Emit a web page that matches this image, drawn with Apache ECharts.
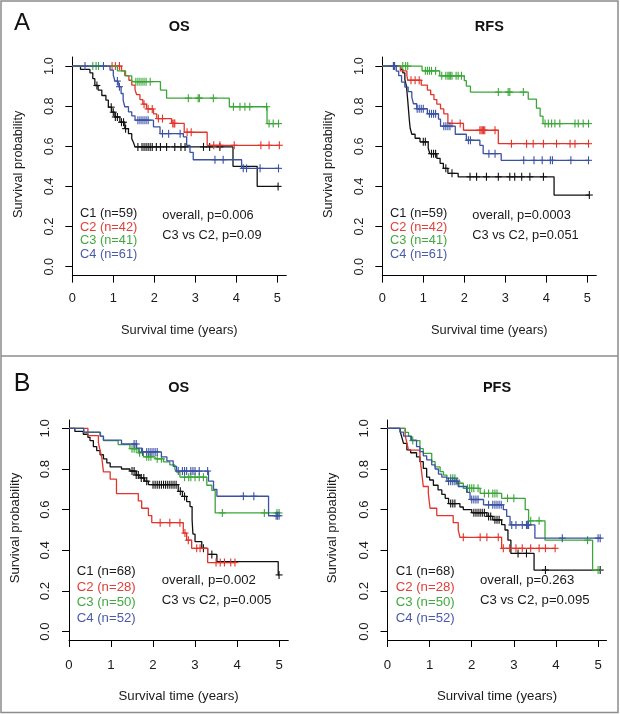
<!DOCTYPE html>
<html><head><meta charset="utf-8">
<script src="https://cdn.jsdelivr.net/npm/echarts@6/dist/echarts.min.js"></script>
<style>html,body{margin:0;padding:0;background:#fff}#c{width:620px;height:714px}</style>
</head><body><div id="c"></div><script>
// ---------- DATA (years, survival probability) ----------
const xTicks = [0, 1, 2, 3, 4, 5];
const yTicks = [0, 0.2, 0.4, 0.6, 0.8, 1.0];
const groupNames = ['C1', 'C2', 'C3', 'C4'];
const panelTitles = ['OS', 'RFS', 'OS', 'PFS'];
const panelLetters = ['A', 'B'];
const nA = [59, 42, 41, 61];
const nB = [68, 28, 50, 52];
const pTextA_OS = ['overall, p=0.006', 'C3 vs C2, p=0.09'];
const pTextA_RFS = ['overall, p=0.0003', 'C3 vs C2, p=0.051'];
const pTextB_OS = ['overall, p=0.002', 'C3 vs C2, p=0.005'];
const pTextB_PFS = ['overall, p=0.263', 'C3 vs C2, p=0.095'];

// Panel A, OS
const aOS_C1_t = [0.2, 0.43, 0.5, 0.55, 0.63, 0.72, 0.82, 0.88, 0.96, 1.04, 1.16, 1.28, 1.37, 1.45, 1.49, 1.53, 3.92, 4.51];
const aOS_C1_s = [0.983, 0.966, 0.937, 0.903, 0.88, 0.853, 0.83, 0.795, 0.77, 0.746, 0.72, 0.688, 0.663, 0.638, 0.62, 0.597, 0.5, 0.4];
const aOS_C1_c = [0.6, 0.95, 1.0, 1.05, 1.1, 1.2, 1.25, 1.3, 1.6, 1.7, 1.75, 1.8, 1.85, 1.9, 1.95, 2.05, 2.15, 2.3, 2.5, 2.65, 2.75, 3.2, 3.35, 3.6, 5.02];
const aOS_C2_t = [1.2, 1.28, 1.38, 1.45, 1.53, 1.57, 1.65, 1.72, 1.81, 1.98, 2.06, 2.42, 2.73, 3.29];
const aOS_C2_s = [0.976, 0.952, 0.929, 0.905, 0.881, 0.857, 0.833, 0.81, 0.786, 0.762, 0.738, 0.714, 0.67, 0.605];
const aOS_C2_c = [0.97, 1.05, 1.15, 1.75, 1.85, 1.95, 2.1, 2.2, 2.45, 2.48, 2.5, 2.8, 2.9, 3.45, 3.6, 3.95, 4.6, 4.8, 5.05];
const aOS_C3_t = [1.1, 1.3, 1.45, 2.15, 2.3, 3.83, 4.75];
const aOS_C3_s = [0.976, 0.951, 0.922, 0.88, 0.84, 0.797, 0.713];
const aOS_C3_c = [0.5, 0.58, 0.64, 1.55, 1.6, 1.65, 1.7, 1.75, 1.8, 1.9, 2.83, 3.07, 3.1, 3.44, 3.93, 4.09, 4.21, 4.33, 4.74, 4.8, 4.9, 5.03];
const aOS_C4_t = [0.92, 1.0, 1.04, 1.12, 1.19, 1.24, 1.28, 1.37, 1.45, 1.53, 1.98, 2.14, 2.71, 2.79, 2.87, 2.95, 4.13];
const aOS_C4_s = [0.98, 0.955, 0.925, 0.897, 0.863, 0.83, 0.797, 0.772, 0.752, 0.73, 0.697, 0.663, 0.647, 0.605, 0.57, 0.533, 0.49];
const aOS_C4_c = [0.31, 0.76, 1.1, 1.15, 1.6, 1.65, 1.7, 1.75, 1.8, 1.85, 2.2, 2.35, 2.63, 3.48, 3.68, 4.17, 4.25, 4.58, 5.03];

// Panel A, RFS
const aRFS_C1_t = [0.45, 0.5, 0.55, 0.59, 0.62, 0.64, 0.66, 0.68, 0.72, 0.8, 0.92, 1.12, 1.16, 1.33, 1.41, 1.49, 1.6, 1.85, 4.19];
const aRFS_C1_s = [0.983, 0.966, 0.932, 0.898, 0.83, 0.78, 0.73, 0.69, 0.66, 0.64, 0.622, 0.59, 0.563, 0.54, 0.515, 0.49, 0.465, 0.448, 0.357];
const aRFS_C1_c = [0.28, 1.0, 1.05, 1.2, 1.25, 1.3, 1.55, 1.7, 2.14, 2.3, 2.54, 2.83, 3.11, 3.23, 3.4, 3.6, 3.93, 5.05];
const aRFS_C2_t = [0.44, 0.6, 0.62, 0.95, 1.1, 1.18, 1.26, 1.33, 1.42, 1.5, 1.6, 1.98, 2.83];
const aRFS_C2_s = [0.976, 0.952, 0.929, 0.905, 0.88, 0.857, 0.833, 0.81, 0.786, 0.762, 0.714, 0.68, 0.613];
const aRFS_C2_c = [0.7, 0.8, 0.9, 1.7, 1.9, 2.38, 2.41, 2.44, 2.47, 2.5, 2.75, 3.15, 3.52, 3.68, 3.93, 4.25, 4.58, 4.7, 5.03];
const aRFS_C3_t = [0.97, 1.4, 2.0, 2.05, 2.15, 3.56, 3.76, 3.85, 3.92];
const aRFS_C3_s = [0.976, 0.951, 0.927, 0.9, 0.87, 0.835, 0.79, 0.75, 0.713];
const aRFS_C3_c = [0.5, 0.57, 0.62, 1.05, 1.1, 1.15, 1.2, 1.3, 1.45, 1.55, 1.6, 1.63, 1.66, 1.7, 1.8, 1.85, 1.93, 2.83, 3.07, 3.11, 3.44, 3.97, 4.05, 4.13, 4.21, 4.33, 4.7, 4.78, 4.9, 5.03];
const aRFS_C4_t = [0.34, 0.4, 0.47, 0.55, 0.63, 0.72, 0.76, 0.84, 1.1, 1.37, 1.42, 1.78, 2.05, 2.38, 2.46, 2.9];
const aRFS_C4_s = [0.975, 0.952, 0.92, 0.895, 0.872, 0.845, 0.812, 0.787, 0.762, 0.735, 0.7, 0.66, 0.63, 0.605, 0.563, 0.53];
const aRFS_C4_c = [0.27, 0.3, 0.85, 0.9, 0.95, 1.0, 1.15, 1.2, 1.25, 1.3, 1.5, 1.55, 1.6, 1.65, 2.1, 2.15, 2.6, 2.75, 3.45, 3.7, 3.9, 4.1, 4.15, 4.6, 5.03];

// Panel B, OS
const bOS_C1_t = [0.14, 0.34, 0.45, 0.5, 0.58, 0.66, 0.74, 0.82, 0.9, 0.98, 1.25, 1.45, 1.6, 1.69, 1.8, 1.89, 2.6, 2.7, 2.8, 2.88, 2.93, 2.95, 3.0, 3.16, 3.3, 3.52, 4.98];
const bOS_C1_s = [0.985, 0.971, 0.956, 0.94, 0.91, 0.89, 0.87, 0.85, 0.83, 0.81, 0.8, 0.79, 0.77, 0.756, 0.74, 0.723, 0.69, 0.665, 0.64, 0.615, 0.55, 0.48, 0.443, 0.41, 0.38, 0.344, 0.279];
const bOS_C1_c = [1.5, 1.55, 1.6, 1.65, 1.72, 1.78, 1.85, 2.0, 2.05, 2.1, 2.15, 2.2, 2.25, 2.3, 2.35, 2.4, 2.45, 2.5, 2.55, 2.65, 2.75, 3.2, 3.4, 5.0];
const bOS_C2_t = [0.45, 0.7, 0.74, 0.78, 0.82, 0.98, 1.13, 1.65, 1.73, 1.89, 1.97, 2.72, 2.8, 2.92, 3.3];
const bOS_C2_s = [0.964, 0.929, 0.893, 0.857, 0.786, 0.75, 0.679, 0.643, 0.607, 0.571, 0.536, 0.485, 0.45, 0.41, 0.34];
const bOS_C2_c = [2.17, 2.4, 2.64, 2.76, 2.84, 3.04, 3.12, 3.5, 3.6, 3.7, 3.85, 3.95];
const bOS_C3_t = [0.35, 0.75, 0.82, 1.17, 1.45, 1.65, 1.77, 2.05, 2.25, 2.4, 2.52, 2.56, 2.64, 3.28, 3.4, 3.48];
const bOS_C3_s = [0.98, 0.96, 0.94, 0.92, 0.9, 0.88, 0.86, 0.85, 0.835, 0.82, 0.8, 0.785, 0.76, 0.72, 0.695, 0.584];
const bOS_C3_c = [1.5, 1.55, 1.6, 1.68, 1.85, 1.9, 1.95, 2.1, 2.2, 2.75, 2.85, 2.9, 3.0, 3.1, 3.2, 3.65, 4.65, 4.95, 5.0];
const bOS_C4_t = [0.35, 0.74, 0.82, 1.25, 1.61, 1.73, 2.2, 2.33, 2.48, 2.56, 3.32, 3.44, 3.52, 4.75];
const bOS_C4_s = [0.981, 0.962, 0.942, 0.923, 0.903, 0.884, 0.86, 0.84, 0.813, 0.79, 0.74, 0.7, 0.666, 0.57];
const bOS_C4_c = [1.55, 1.6, 1.75, 1.85, 1.9, 1.95, 2.0, 2.05, 2.1, 2.6, 2.7, 2.75, 2.8, 2.9, 2.95, 3.0, 3.1, 3.3, 4.15, 4.4, 4.93, 4.96, 5.0];

// Panel B, PFS
const bPFS_C1_t = [0.3, 0.34, 0.38, 0.46, 0.55, 0.69, 0.77, 0.85, 0.93, 1.0, 1.09, 1.2, 1.29, 1.37, 1.45, 1.72, 1.8, 2.0, 2.36, 2.5, 2.71, 2.79, 2.86, 2.93, 3.48];
const bPFS_C1_s = [0.985, 0.956, 0.926, 0.894, 0.88, 0.86, 0.836, 0.803, 0.76, 0.746, 0.72, 0.697, 0.675, 0.656, 0.63, 0.613, 0.6, 0.585, 0.567, 0.55, 0.526, 0.5, 0.45, 0.385, 0.303];
const bPFS_C1_c = [1.5, 1.55, 1.6, 2.05, 2.1, 2.15, 2.2, 2.25, 2.3, 2.4, 2.45, 2.55, 2.6, 2.65, 3.1, 3.3, 3.75, 5.05];
const bPFS_C2_t = [0.42, 0.46, 0.5, 0.77, 0.79, 0.81, 0.83, 0.85, 0.97, 0.99, 1.01, 1.17, 1.56, 1.68, 1.72, 2.71];
const bPFS_C2_s = [0.964, 0.929, 0.893, 0.857, 0.821, 0.786, 0.75, 0.714, 0.679, 0.643, 0.607, 0.571, 0.536, 0.5, 0.464, 0.41];
const bPFS_C2_c = [1.8, 2.2, 2.36, 2.63, 2.75, 2.9, 3.05, 3.2, 3.4, 3.6, 3.75, 3.98];
const bPFS_C3_t = [0.42, 0.5, 0.55, 0.77, 0.85, 1.05, 1.13, 1.25, 1.33, 1.41, 1.64, 1.8, 2.2, 2.71, 3.27, 3.35, 3.74, 4.87];
const bPFS_C3_s = [0.98, 0.96, 0.94, 0.9, 0.877, 0.836, 0.81, 0.787, 0.77, 0.754, 0.73, 0.705, 0.68, 0.656, 0.6, 0.545, 0.45, 0.303];
const bPFS_C3_c = [0.6, 1.5, 1.55, 1.6, 1.7, 1.9, 1.95, 2.0, 2.05, 2.15, 2.3, 2.4, 2.5, 2.55, 2.6, 2.85, 3.0, 3.4, 3.6, 4.75, 5.0];
const bPFS_C4_t = [0.3, 0.38, 0.57, 0.69, 0.77, 0.85, 0.93, 1.05, 1.13, 1.21, 1.29, 1.41, 1.68, 1.88, 1.96, 2.28, 2.75, 2.83, 2.91, 3.5];
const bPFS_C4_s = [0.981, 0.962, 0.942, 0.91, 0.885, 0.865, 0.845, 0.82, 0.8, 0.775, 0.76, 0.74, 0.714, 0.685, 0.65, 0.624, 0.6, 0.567, 0.525, 0.46];
const bPFS_C4_c = [1.45, 1.5, 1.55, 1.6, 1.65, 2.0, 2.05, 2.1, 2.15, 2.4, 2.5, 2.55, 2.6, 2.65, 2.7, 2.95, 3.05, 3.2, 3.3, 3.32, 3.35, 4.15, 5.0, 5.05];

// ---------- LAYOUT / STYLE ----------
const FONT = '"Liberation Sans", Arial, Helvetica, sans-serif';
const COLORS = ['#111111', '#e3342c', '#3ba638', '#3b51a3'];
const TEXT_COLORS = ['#1a1a1a', '#e0403a', '#44a840', '#4a5aa8'];

const panels = [
  { curves: [[aOS_C1_t, aOS_C1_s, aOS_C1_c], [aOS_C2_t, aOS_C2_s, aOS_C2_c], [aOS_C3_t, aOS_C3_s, aOS_C3_c], [aOS_C4_t, aOS_C4_s, aOS_C4_c]],
    n: nA, p: pTextA_OS, left: 72.3, top: 57, width: 214, height: 218.7, yMin: -0.045, yMax: 1.045, xMax: 5.22,
    legX: 80, legY: 213.3, legDy: 13.7, pX: 162.3, pY: 215.7, pDy: 20, fs: 12.8, xLabM: 16.5, yLabM: 16, xTitleY: 330, yTitleX: 18, titleY: 26.7 },
  { curves: [[aRFS_C1_t, aRFS_C1_s, aRFS_C1_c], [aRFS_C2_t, aRFS_C2_s, aRFS_C2_c], [aRFS_C3_t, aRFS_C3_s, aRFS_C3_c], [aRFS_C4_t, aRFS_C4_s, aRFS_C4_c]],
    n: nA, p: pTextA_RFS, left: 382.3, top: 57, width: 214, height: 218.7, yMin: -0.045, yMax: 1.045, xMax: 5.22,
    legX: 390, legY: 213.3, legDy: 13.7, pX: 472.3, pY: 215.7, pDy: 20, fs: 12.8, xLabM: 16.5, yLabM: 16, xTitleY: 330, yTitleX: 328, titleY: 26.7 },
  { curves: [[bOS_C1_t, bOS_C1_s, bOS_C1_c], [bOS_C2_t, bOS_C2_s, bOS_C2_c], [bOS_C3_t, bOS_C3_s, bOS_C3_c], [bOS_C4_t, bOS_C4_s, bOS_C4_c]],
    n: nB, p: pTextB_OS, left: 69, top: 420, width: 219.3, height: 220, yMin: -0.041, yMax: 1.041, xMax: 5.22,
    legX: 76.7, legY: 571.7, legDy: 15.5, pX: 161.7, pY: 580, pDy: 20, fs: 13.2, xLabM: 19, yLabM: 17, xTitleY: 696, yTitleX: 15, titleY: 387.7 },
  { curves: [[bPFS_C1_t, bPFS_C1_s, bPFS_C1_c], [bPFS_C2_t, bPFS_C2_s, bPFS_C2_c], [bPFS_C3_t, bPFS_C3_s, bPFS_C3_c], [bPFS_C4_t, bPFS_C4_s, bPFS_C4_c]],
    n: nB, p: pTextB_PFS, left: 387.5, top: 420, width: 219, height: 220, yMin: -0.041, yMax: 1.041, xMax: 5.2,
    legX: 395.7, legY: 571.7, legDy: 15.5, pX: 480, pY: 580, pDy: 20, fs: 13.2, xLabM: 19, yLabM: 17, xTitleY: 696, yTitleX: 332, titleY: 388 }
];

function stepData(t, s, c) {
  const end = Math.max(t[t.length - 1], c.length ? c[c.length - 1] : 0);
  const d = [[0, 1]];
  t.forEach((ti, i) => d.push([ti, s[i]]));
  d.push([end, s[s.length - 1]]);
  return d;
}
function survAt(t, s, x) {
  let v = 1;
  for (let i = 0; i < t.length; i++) if (t[i] <= x) v = s[i];
  return v;
}

const grid = [], xAxis = [], yAxis = [], series = [], graphic = [];

function txt(x, y, text, o) {
  o = o || {};
  graphic.push({
    type: 'text', x: x, y: y, rotation: o.rot || 0, silent: true,
    style: { text: text, fill: o.color || '#1a1a1a', font: (o.weight || 'normal') + ' ' + (o.size || 12.8) + 'px ' + FONT,
      textAlign: o.align || 'left', textVerticalAlign: 'middle' }
  });
}

panels.forEach((p, i) => {
  grid.push({ left: p.left, top: p.top, width: p.width, height: p.height, containLabel: false });
  xAxis.push({
    gridIndex: i, type: 'value', min: 0, max: p.xMax,
    axisLine: { show: true, onZero: false, lineStyle: { color: '#000', width: 1 } },
    axisTick: { show: true, customValues: xTicks, length: 7, lineStyle: { color: '#000', width: 1 } },
    axisLabel: { customValues: xTicks, margin: p.xLabM, fontSize: p.fs, fontFamily: FONT, color: '#1a1a1a', formatter: v => String(v) },
    splitLine: { show: false }
  });
  yAxis.push({
    gridIndex: i, type: 'value', min: p.yMin, max: p.yMax,
    axisLine: { show: true, onZero: false, lineStyle: { color: '#000', width: 1 } },
    axisTick: { show: true, customValues: yTicks, length: 7, lineStyle: { color: '#000', width: 1 } },
    axisLabel: { customValues: yTicks, rotate: 90, margin: p.yLabM, fontSize: p.fs, fontFamily: FONT, color: '#1a1a1a', formatter: v => v.toFixed(1) },
    splitLine: { show: false }
  });
  p.curves.forEach((cv, k) => {
    const [t, s, c] = cv;
    series.push({
      type: 'line', xAxisIndex: i, yAxisIndex: i, step: 'end', showSymbol: false, symbol: 'none',
      data: stepData(t, s, c), lineStyle: { color: COLORS[k], width: 1.3 }, itemStyle: { color: COLORS[k] },
      animation: false, silent: true, clip: false, z: 2 + k
    });
    series.push({
      type: 'custom', xAxisIndex: i, yAxisIndex: i, animation: false, silent: true, clip: false, z: 2 + k,
      data: c.map(x => [x, survAt(t, s, x)]),
      renderItem: (params, api) => {
        const pt = api.coord([api.value(0), api.value(1)]);
        const col = COLORS[k];
        return { type: 'group', children: [
          { type: 'line', shape: { x1: pt[0], y1: pt[1] - 4, x2: pt[0], y2: pt[1] + 4 }, style: { stroke: col, lineWidth: 1.1 } },
          { type: 'line', shape: { x1: pt[0] - 3.5, y1: pt[1], x2: pt[0] + 3.5, y2: pt[1] }, style: { stroke: col, lineWidth: 1.1 } }
        ] };
      }
    });
  });
  // title
  txt(p.left + p.width / 2, p.titleY, panelTitles[i], { align: 'center', weight: 'bold', size: 14.5, color: '#111' });
  // axis titles
  txt(p.left + p.width / 2, p.xTitleY, 'Survival time (years)', { align: 'center', size: p.fs });
  txt(p.yTitleX, p.top + p.height / 2 - 2, 'Survival probability', { align: 'center', size: p.fs, rot: Math.PI / 2 });
  // group legend
  groupNames.forEach((g, k) => {
    txt(p.legX, p.legY + k * p.legDy, g + ' (n=' + p.n[k] + ')', { color: TEXT_COLORS[k], size: p.fs });
  });
  p.p.forEach((line, k) => txt(p.pX, p.pY + k * p.pDy, line, { size: p.fs }));
});

txt(22, 23, panelLetters[0], { align: 'center', size: 24, color: '#111' });
txt(22, 384, panelLetters[1], { align: 'center', size: 25, color: '#111' });
graphic.push({ type: 'rect', silent: true, shape: { x: 1, y: 1, width: 617, height: 711.5 }, style: { fill: 'none', stroke: '#8c8c8c', lineWidth: 1.5 } });
graphic.push({ type: 'line', silent: true, shape: { x1: 1, y1: 356, x2: 618, y2: 356 }, style: { stroke: '#8c8c8c', lineWidth: 1.5 } });

const chart = echarts.init(document.getElementById('c'), null, { renderer: 'canvas' });
chart.setOption({ animation: false, backgroundColor: '#ffffff', grid, xAxis, yAxis, series, graphic });
</script></body></html>
